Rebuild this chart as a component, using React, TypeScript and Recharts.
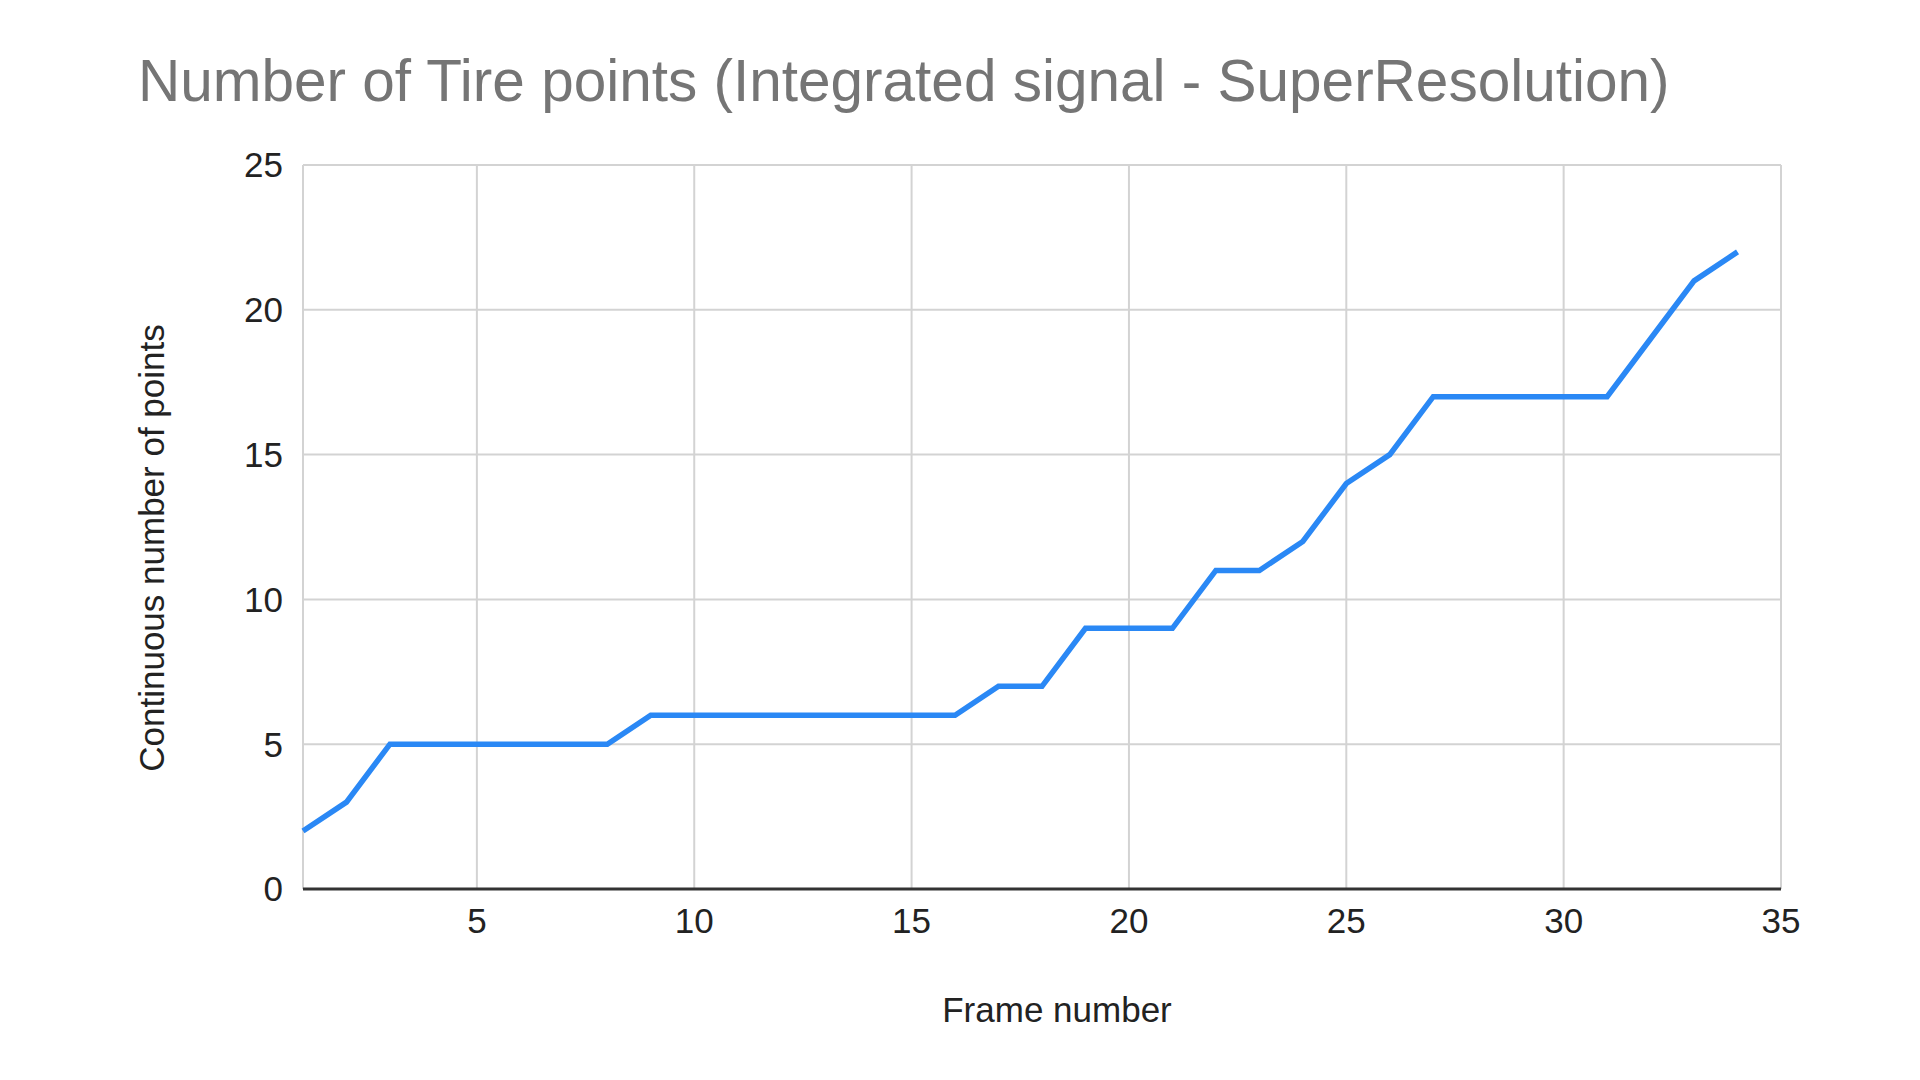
import React from 'react';
import { LineChart, Line, XAxis, YAxis, CartesianGrid } from 'recharts';

const frames = [1, 2, 3, 4, 5, 6, 7, 8, 9, 10, 11, 12, 13, 14, 15, 16, 17, 18, 19, 20, 21, 22, 23, 24, 25, 26, 27, 28, 29, 30, 31, 32, 33, 34];
const points = [2, 3, 5, 5, 5, 5, 5, 5, 6, 6, 6, 6, 6, 6, 6, 6, 7, 7, 9, 9, 9, 11, 11, 12, 14, 15, 17, 17, 17, 17, 17, 19, 21, 22];
const xTicks = [5, 10, 15, 20, 25, 30, 35];
const yTicks = [0, 5, 10, 15, 20, 25];

const title = 'Number of Tire points (Integrated signal - SuperResolution)';
const xTitle = 'Frame number';
const yTitle = 'Continuous number of points';

const data = frames.map((f, i) => ({ frame: f, value: points[i] }));

const FONT = '"Liberation Sans", Arial, sans-serif';

export default function App() {
  return (
    <div style={{ position: 'absolute', left: 0, top: 0, width: 1920, height: 1080, background: '#fff' }}>
      <LineChart
        width={1920}
        height={1080}
        data={data}
        margin={{ top: 165, right: 139, bottom: 131, left: 203 }}
      >
        <CartesianGrid stroke="#d3d3d3" strokeWidth={2} />
        <XAxis
          dataKey="frame"
          type="number"
          domain={[1, 35]}
          ticks={xTicks}
          height={60}
          axisLine={{ stroke: '#333', strokeWidth: 3 }}
          tickLine={false}
          tickSize={0}
          tickMargin={19}
          tick={{ fontSize: 35, fill: '#222', fontFamily: FONT }}
          interval={0}
        />
        <YAxis
          type="number"
          domain={[0, 25]}
          ticks={yTicks}
          width={100}
          axisLine={false}
          tickLine={false}
          tickSize={0}
          tickMargin={20}
          tick={{ fontSize: 35, fill: '#222', fontFamily: FONT }}
          interval={0}
        />
        <Line
          type="linear"
          dataKey="value"
          stroke="#2a88f5"
          strokeWidth={5.5}
          dot={false}
          activeDot={false}
          isAnimationActive={false}
        />
      </LineChart>
      <svg
        width={1920}
        height={1080}
        style={{ position: 'absolute', left: 0, top: 0, pointerEvents: 'none' }}
      >
        <text x={138} y={101} fontSize={58.5} fill="#757575" fontFamily={FONT}>
          {title}
        </text>
        <text x={1057} y={1022} fontSize={35} fill="#222" fontFamily={FONT} textAnchor="middle">
          {xTitle}
        </text>
        <text
          transform="rotate(-90)"
          x={-548}
          y={164}
          fontSize={35}
          fill="#222"
          fontFamily={FONT}
          textAnchor="middle"
        >
          {yTitle}
        </text>
      </svg>
    </div>
  );
}
